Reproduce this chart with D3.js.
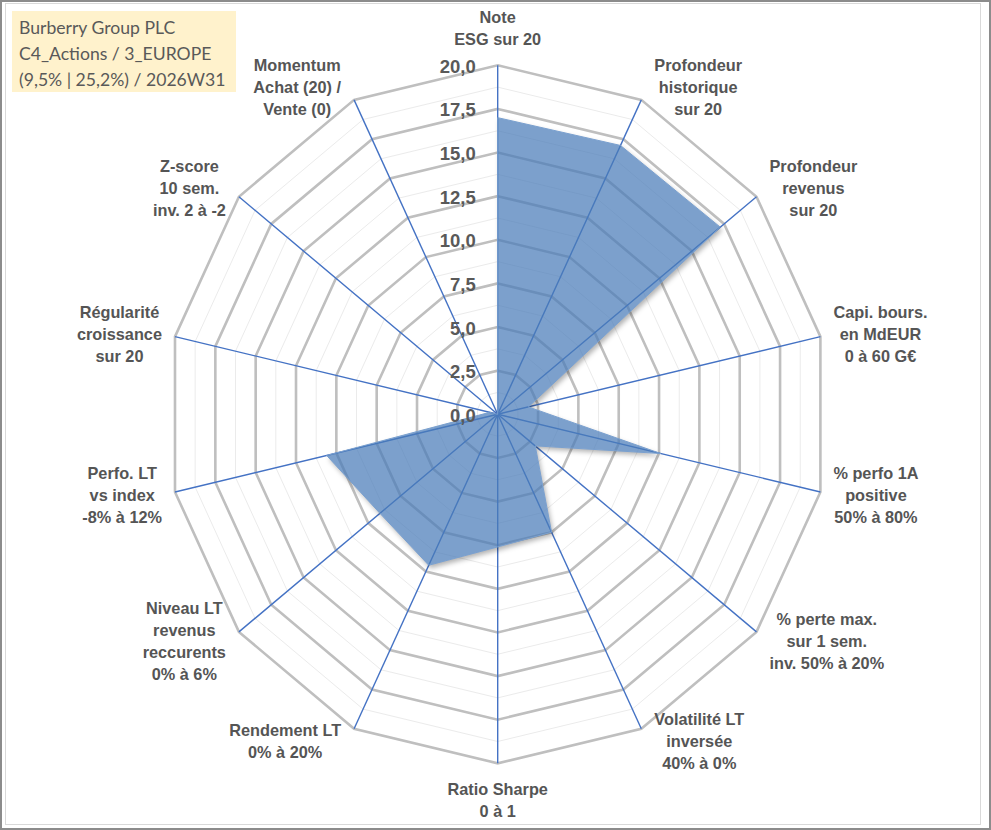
<!DOCTYPE html>
<html>
<head>
<meta charset="utf-8">
<script src="https://cdn.jsdelivr.net/npm/d3@7"></script>
<style>
  body { margin: 0; background: #fff; }
  svg text { font-family: "Liberation Sans", Arial, sans-serif; }
</style>
</head>
<body>
<div id="chart"></div>
<script>
// axis labels, clockwise from the top
const axisLabels = [
  ["Note", "ESG sur 20"],
  ["Profondeur", "historique", "sur 20"],
  ["Profondeur", "revenus", "sur 20"],
  ["Capi. bours.", "en MdEUR", "0 à 60 G€"],
  ["% perfo 1A", "positive", "50% à 80%"],
  ["% perte max.", "sur 1 sem.", "inv. 50% à 20%"],
  ["Volatilité LT", "inversée", "40% à 0%"],
  ["Ratio Sharpe", "0 à 1"],
  ["Rendement LT", "0% à 20%"],
  ["Niveau LT", "revenus", "reccurents", "0% à 6%"],
  ["Perfo. LT", "vs index", "-8% à 12%"],
  ["Régularité", "croissance", "sur 20"],
  ["Z-score", "10 sem.", "inv. 2 à -2"],
  ["Momentum", "Achat (20) /", "Vente (0)"]
];
const scores = [17.0, 17.1, 17.2, 1.9, 10.1, 2.9, 7.5, 7.6, 9.6, 9.1, 10.6, 0.5, 0, 0];
const tickValues = [0, 2.5, 5, 7.5, 10, 12.5, 15, 17.5, 20];
const minorValues = [1.25, 3.75, 6.25, 8.75, 11.25, 13.75, 16.25, 18.75];
const titleLines = ["Burberry Group PLC", "C4_Actions / 3_EUROPE", "(9,5% | 25,2%) / 2026W31"];

const width = 991;
const height = 830;
const cx = 497.7, cy = 414.3;

const rx = d3.scaleLinear().domain([0, 20]).range([0, 331]);
const ry = d3.scaleLinear().domain([0, 20]).range([0, 349]);
const angle = d3.scaleLinear().domain([0, axisLabels.length]).range([0, 2 * Math.PI]);

const px = (i, v) => cx + Math.sin(angle(i)) * rx(v);
const py = (i, v) => cy - Math.cos(angle(i)) * ry(v);

const svg = d3.select("#chart")
  .append("svg")
  .attr("width", width)
  .attr("height", height);

// frame
svg.append("rect")
  .attr("x", 1).attr("y", 1)
  .attr("width", width - 2).attr("height", height - 2)
  .attr("fill", "#fff")
  .attr("stroke", "#8c8c8c")
  .attr("stroke-width", 2);
svg.append("rect")
  .attr("x", 5.5).attr("y", 3.5)
  .attr("width", 975).attr("height", 821)
  .attr("fill", "none")
  .attr("stroke", "#d9d9d9");

const ring = v => axisLabels.map((d, i) => [px(i, v), py(i, v)]);
const line = d3.line().curve(d3.curveLinearClosed);
const areaPath = line(scores.map((v, i) => [px(i, v), py(i, v)]));

const defs = svg.append("defs");
defs.append("filter")
  .attr("id", "blur")
  .attr("x", "-10%").attr("y", "-10%")
  .attr("width", "130%").attr("height", "130%")
  .append("feGaussianBlur")
  .attr("stdDeviation", 2.5);
const mask = defs.append("mask").attr("id", "outside");
mask.append("rect").attr("width", width).attr("height", height).attr("fill", "#fff");
mask.append("path").attr("d", areaPath).attr("fill", "#000");

// minor grid
svg.selectAll(".minor")
  .data(minorValues)
  .enter()
  .append("path")
  .attr("class", "minor")
  .attr("d", v => line(ring(v)))
  .attr("fill", "none")
  .attr("stroke", "#ebebeb")
  .attr("stroke-width", 1);

// major grid
svg.selectAll(".major")
  .data(tickValues.slice(1))
  .enter()
  .append("path")
  .attr("class", "major")
  .attr("d", v => line(ring(v)))
  .attr("fill", "none")
  .attr("stroke", "#bfbfbf")
  .attr("stroke-width", 2.6);

// spokes
svg.selectAll(".spoke")
  .data(axisLabels)
  .enter()
  .append("line")
  .attr("class", "spoke")
  .attr("x1", cx).attr("y1", cy)
  .attr("x2", (d, i) => px(i, 20))
  .attr("y2", (d, i) => py(i, 20))
  .attr("stroke", "#4472c4")
  .attr("stroke-width", 1.4);

// shadow of the series, kept outside the area
svg.append("g")
  .attr("mask", "url(#outside)")
  .append("path")
  .attr("d", areaPath)
  .attr("transform", "translate(2,3)")
  .attr("fill", "#000")
  .attr("fill-opacity", 0.3)
  .attr("filter", "url(#blur)");

// series area
svg.append("path")
  .attr("d", areaPath)
  .attr("fill", "#4a7cb8")
  .attr("fill-opacity", 0.72)
  .attr("stroke", "#7aa0cf")
  .attr("stroke-width", 1);

// tick labels
svg.selectAll(".tick")
  .data(tickValues)
  .enter()
  .append("text")
  .attr("class", "tick")
  .attr("x", cx - 22)
  .attr("y", v => cy - ry(v) + 1)
  .attr("text-anchor", "end")
  .attr("dominant-baseline", "central")
  .attr("font-size", "18.5px")
  .attr("font-weight", "bold")
  .attr("fill", "#595959")
  .text(v => d3.format(".1f")(v).replace(".", ","));

// axis labels
const lineH = 22;
const labels = svg.selectAll(".label")
  .data(axisLabels)
  .enter()
  .append("text")
  .attr("class", "label")
  .attr("font-size", "16.3px")
  .attr("font-weight", "bold")
  .attr("fill", "#555555")
  .attr("text-anchor", "middle");

labels.each(function (lines, i) {
  const t = d3.select(this);
  t.selectAll("tspan")
    .data(lines)
    .enter()
    .append("tspan")
    .attr("x", 0)
    .attr("dy", (d, j) => j === 0 ? 0 : lineH)
    .attr("dominant-baseline", "central")
    .text(d => d);
  const w = d3.max(t.selectAll("tspan").nodes(), n => n.getComputedTextLength());
  const h = lines.length * lineH;
  const s = Math.sin(angle(i)), c = Math.cos(angle(i));
  let dx, dy;
  if (Math.abs(s) < 0.01) {
    dx = 0;
    dy = -c * (h / 2 + 15);
  } else {
    dx = Math.sign(s) * (w / 2 + 13);
    dy = -c * 14;
  }
  const mx = px(i, 20) + dx;
  const my = py(i, 20) + dy;
  t.attr("transform", `translate(${mx},${my - h / 2 + lineH / 2})`);
});

// title box
svg.append("rect")
  .attr("x", 12).attr("y", 11)
  .attr("width", 224).attr("height", 81)
  .attr("fill", "#fff2cc");

svg.selectAll(".title")
  .data(titleLines)
  .enter()
  .append("text")
  .attr("class", "title")
  .attr("x", 19)
  .attr("y", (d, i) => 27 + i * 26.3)
  .attr("dominant-baseline", "central")
  .attr("font-size", "17.6px")
  .style("font-family", "Lato, sans-serif")
  .attr("fill", "#595959")
  .text(d => d);
</script>
</body>
</html>
